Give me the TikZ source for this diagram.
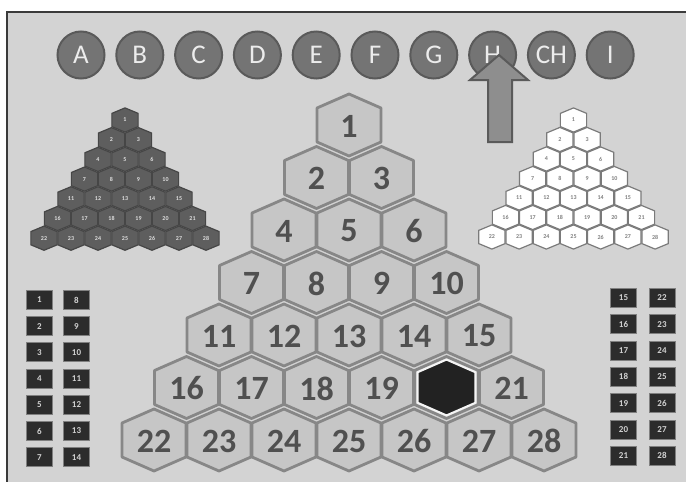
\documentclass[tikz,border=0pt]{standalone}
\usepackage{fontspec}
\setmainfont{Carlito}
\definecolor{bgfill}{HTML}{D3D3D3}
\definecolor{frameline}{HTML}{3A3A3A}
\definecolor{hexfill}{HTML}{C6C6C6}
\definecolor{hexline}{HTML}{878787}
\definecolor{numgray}{HTML}{505050}
\definecolor{holefill}{HTML}{222222}
\definecolor{darkfill}{HTML}{5E5E5E}
\definecolor{darkline}{HTML}{464646}
\definecolor{whiteline}{HTML}{7A7A7A}
\definecolor{ballfill}{HTML}{747474}
\definecolor{ballline}{HTML}{5A5A5A}
\definecolor{arrowfill}{HTML}{8E8E8E}
\definecolor{boxfill}{HTML}{2C2C2C}
\tikzset{
  bighex/.style={draw=hexline, fill=hexfill, line width=2.8pt, line join=round},
  holehex/.style={draw=white!92!gray, fill=holefill, line width=2pt, line join=round},
  darkhex/.style={draw=darkline, fill=darkfill, line width=1.2pt},
  whitehex/.style={draw=whiteline, fill=white, line width=1.2pt},
  bignum/.style={text=numgray, font=\fontsize{34}{34}\selectfont\bfseries},
  darknum/.style={text=white!75!gray, font=\fontsize{6}{6}\selectfont\bfseries},
  whitenum/.style={text=gray, font=\fontsize{6}{6}\selectfont\bfseries},
  ball/.style={circle, draw=ballline, fill=ballfill, line width=2pt, minimum size=47pt, inner sep=0pt,
    text=white!85!gray, font=\fontsize{27}{27}\selectfont},
  numbox/.style={draw=gray, fill=boxfill, line width=1pt, minimum width=26pt, minimum height=19pt, inner sep=0pt,
    text=white!65!gray, font=\fontsize{9}{9}\selectfont\bfseries},
  pointer/.style={draw=ballline, fill=arrowfill, line width=2pt, line join=miter}
}
\newcommand{\hexcell}[5]{\draw[#1, shift={(#2,#3)}, xscale=#4, yscale=#5] (0,-31) -- (32,-17) -- (32,17) -- (0,31) -- (-32,17) -- (-32,-17) -- cycle;}
\begin{document}
\begin{tikzpicture}[x=1pt, y=-1pt]
\useasboundingbox (0,0) rectangle (686,482);
\fill[white] (0,0) rectangle (686,482);
\fill[bgfill] (7,12) rectangle (686,482);
\draw[frameline, line width=2pt] (7,482) -- (7,12) -- (686,12);

\foreach \letter [count=\i from 0] in {A,B,C,D,E,F,G,H,CH,I}
  \node[ball] (ball\i) at (81+\i*58.8,55) {\letter};

\draw[pointer] (499,55) -- (528,80) -- (512,80) -- (512,142) -- (488,142) -- (488,80) -- (470,80) -- cycle;

\foreach \r in {0,...,6} {
  \foreach \k in {0,...,\r} {
    \pgfmathtruncatemacro\n{\r*(\r+1)/2+\k+1}
    \pgfmathsetmacro\bx{349+(\k-\r/2)*65}
    \pgfmathsetmacro\by{125+\r*52.5}
    \pgfmathsetmacro\lx{125+(\k-\r/2)*27}
    \pgfmathsetmacro\ly{120+\r*19.7}
    \pgfmathsetmacro\rx{573.5+(\k-\r/2)*27.2}
    \pgfmathsetmacro\ry{120+\r*19.5}
    \hexcell{bighex}{\bx}{\by}{1}{1}
    \ifnum\n=20
      \hexcell{holehex}{\bx}{\by}{0.9}{0.9}
      \node (big\n) at (\bx,\by) {};
    \else
      \node[bignum] (big\n) at (\bx,\by+1) {\n};
    \fi
    \hexcell{darkhex}{\lx}{\ly}{0.41}{0.39}
    \node[darknum] (dark\n) at (\lx,\ly) {\n};
    \hexcell{whitehex}{\rx}{\ry}{0.41}{0.39}
    \node[whitenum] (white\n) at (\rx,\ry) {\n};
  }
}

\foreach \k in {0,...,6} {
  \pgfmathtruncatemacro\a{\k+1}
  \pgfmathtruncatemacro\b{\k+8}
  \pgfmathtruncatemacro\c{\k+15}
  \pgfmathtruncatemacro\d{\k+22}
  \node[numbox] (box\a) at (39.5,300+\k*26.2) {\a};
  \node[numbox] (box\b) at (76.5,300+\k*26.2) {\b};
  \node[numbox] (box\c) at (623.5,298+\k*26.3) {\c};
  \node[numbox] (box\d) at (662,298+\k*26.3) {\d};
}
\end{tikzpicture}
\end{document}
